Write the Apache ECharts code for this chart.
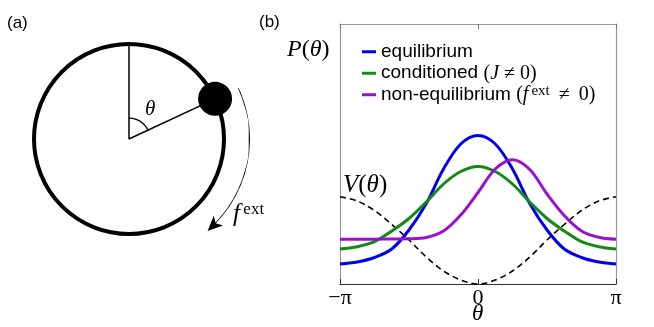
<!DOCTYPE html>
<html><head><meta charset="utf-8">
<script src="https://cdn.jsdelivr.net/npm/echarts@6/dist/echarts.min.js"></script>
<style>html,body{margin:0;padding:0;background:#fff}#c{width:654px;height:327px}</style>
</head><body><div id="c"></div>
<script>
// ---- panel (b) data: theta in units of pi ----
const theta = [-1, -0.875, -0.75, -0.625, -0.5, -0.375, -0.25, -0.125, 0, 0.125, 0.25, 0.375, 0.5, 0.625, 0.75, 0.875, 1];
const equilibrium = [20, 22, 26.5, 35, 54, 80.5, 115, 140, 148.5, 140, 115, 80.5, 54, 35, 26.5, 22, 20];
const conditioned = [35, 37.3, 42.3, 53, 65.5, 82, 100, 112.5, 117.5, 112.5, 100, 82, 65.5, 53, 42.3, 37.3, 35];
const nonEquilibrium = [44.7, 44.7, 44.8, 45, 45.2, 46.5, 53, 69, 91.5, 115, 124.3, 114.5, 90, 68.5, 53, 46.7, 44.7];
const potential = [87.3, 83, 73.5, 59.5, 44, 27, 13, 4, 0, 4, 13, 27, 44, 59.5, 73.5, 83, 87.3];
const xTickLabels = { '-1': '−π', '0': '0', '1': 'π' };
const seriesNames = ['equilibrium', 'conditioned', 'non-equilibrium'];

// ---- panel (a) diagram data: polar [radius, angle in degrees clockwise from top] ----
const refRay = [[0, 0], [1, 0]];
const ballRay = [[0, 65], [1, 65]];
const ball = [[1, 65]];
const thetaArc = [[0.22, 0], [0.22, 10], [0.22, 20], [0.22, 30], [0.22, 40], [0.22, 50], [0.22, 60], [0.22, 65]];
const forceArc = [[1, 65], [1, 75], [1, 85], [1, 95], [1, 105], [1, 115], [1, 125], [1, 135], [1, 138]];
const forceHead = [[1, 139.5]];

const zip = (xs, ys) => xs.map((x, i) => [x, ys[i]]);
const SERIF = '"Liberation Serif", "Times New Roman", serif';
const SANS = '"Liberation Sans", Arial, sans-serif';
const C_BLUE = '#0000f0', C_GREEN = '#138a13', C_PURPLE = '#9a10d0';
const SMOOTH = 0.34;

const chart = echarts.init(document.getElementById('c'), null, { renderer: 'canvas' });

const hiddenAxis = { axisLine: { show: false }, axisTick: { show: false }, axisLabel: { show: false }, splitLine: { show: false } };

chart.setOption({
  animation: false,
  backgroundColor: '#fff',
  grid: { left: 340, right: 38, top: 24, bottom: 43, containLabel: false, outerBoundsMode: 'none' },
  xAxis: [
    {
      type: 'value', min: -1, max: 1, interval: 1, position: 'bottom',
      axisLine: { onZero: false, lineStyle: { color: '#333', width: 1.2 } },
      axisTick: { inside: true, length: 5, lineStyle: { color: '#333' } },
      axisLabel: { formatter: v => xTickLabels[String(v)], fontFamily: SERIF, fontSize: 22, color: '#000', margin: 3 },
      splitLine: { show: false }
    },
    {
      type: 'value', min: -1, max: 1, interval: 1, position: 'top',
      axisLine: { onZero: false, lineStyle: { color: '#999', width: 1.2 } },
      axisTick: { inside: true, length: 5, lineStyle: { color: '#777' } },
      axisLabel: { show: false }, splitLine: { show: false }
    }
  ],
  yAxis: [
    { type: 'value', min: 0, max: 260, position: 'left', axisLine: { show: true, onZero: false, lineStyle: { color: '#999', width: 1.2 } }, axisTick: { show: false }, axisLabel: { show: false }, splitLine: { show: false } },
    { type: 'value', min: 0, max: 260, position: 'right', axisLine: { show: true, onZero: false, lineStyle: { color: '#999', width: 1.2 } }, axisTick: { show: false }, axisLabel: { show: false }, splitLine: { show: false } }
  ],
  polar: [
    { center: [129, 139], radius: 95 },
    { center: [129, 139], radius: 121 }
  ],
  angleAxis: [
    { polarIndex: 0, type: 'value', min: 0, max: 360, startAngle: 90, clockwise: true,
      axisLine: { show: true, lineStyle: { color: '#000', width: 4 } }, axisTick: { show: false }, axisLabel: { show: false }, splitLine: { show: false } },
    Object.assign({ polarIndex: 1, type: 'value', min: 0, max: 360, startAngle: 90, clockwise: true }, hiddenAxis)
  ],
  radiusAxis: [
    Object.assign({ polarIndex: 0, type: 'value', min: 0, max: 1 }, hiddenAxis),
    Object.assign({ polarIndex: 1, type: 'value', min: 0, max: 1 }, hiddenAxis)
  ],
  legend: {
    data: seriesNames, orient: 'vertical', left: 362, top: 41, padding: 0,
    icon: 'rect', itemWidth: 14, itemHeight: 3, itemGap: 0,
    textStyle: {
      fontFamily: SANS, fontSize: 19, color: '#000', lineHeight: 21.5,
      rich: {
        t: { fontFamily: SANS, fontSize: 19, color: '#000', lineHeight: 21.5 },
        m: { fontFamily: SERIF, fontSize: 20, color: '#000', lineHeight: 21.5 },
        mi: { fontFamily: SERIF, fontStyle: 'italic', fontSize: 20, color: '#000', lineHeight: 21.5 },
        sup: { fontFamily: SERIF, fontSize: 15, color: '#000', lineHeight: 13, verticalAlign: 'top' }
      }
    },
    formatter: name => {
      if (name === 'conditioned') return '{t|conditioned }{m|(}{mi|J}{m| ≠ 0)}';
      if (name === 'non-equilibrium') return '{t|non-equilibrium }{m|(}{mi|f}{sup|\u2009ext}{m| \u2009≠\u2009 0)}';
      return '{t|' + name + '}';
    }
  },
  graphic: [
    { type: 'text', left: 7, top: 15, style: { text: '(a)', fontFamily: SANS, fontSize: 17, fill: '#000' } },
    { type: 'text', left: 259, top: 14, style: { text: '(b)', fontFamily: SANS, fontSize: 17, fill: '#000' } },
    { type: 'text', left: 145, top: 99, style: { text: 'θ', fontFamily: SERIF, fontStyle: 'italic', fontSize: 21, fill: '#000' } },
    { type: 'text', left: 472, top: 302, style: { text: 'θ', fontFamily: SERIF, fontStyle: 'italic', fontSize: 23, fill: '#000' } },
    { type: 'text', left: 233, top: 201, style: { text: '{f|f}{s|\u2009ext}', rich: {
        f: { fontFamily: SERIF, fontStyle: 'italic', fontSize: 25, fill: '#000', lineHeight: 26 },
        s: { fontFamily: SERIF, fontSize: 17, fill: '#000', lineHeight: 15, verticalAlign: 'top' } } } },
    { type: 'text', left: 287, top: 38, style: { text: '{i|P}{u|(}{i|θ}{u|)}', rich: {
        i: { fontFamily: SERIF, fontStyle: 'italic', fontSize: 24, fill: '#000' },
        u: { fontFamily: SERIF, fontSize: 24, fill: '#000' } } } },
    { type: 'text', left: 343, top: 173, style: { text: '{i|V}{u|(}{i|θ}{u|)}', rich: {
        i: { fontFamily: SERIF, fontStyle: 'italic', fontSize: 25, fill: '#000' },
        u: { fontFamily: SERIF, fontSize: 25, fill: '#000' } } } }
  ],
  series: [
    { type: 'line', name: 'V', xAxisIndex: 0, yAxisIndex: 0, data: zip(theta, potential), smooth: SMOOTH, showSymbol: false, silent: true,
      lineStyle: { color: '#000', width: 1.6, type: [6, 4] }, z: 1 },
    { type: 'line', name: 'equilibrium', xAxisIndex: 0, yAxisIndex: 0, data: zip(theta, equilibrium), smooth: SMOOTH, showSymbol: false,
      lineStyle: { color: C_BLUE, width: 3 }, itemStyle: { color: C_BLUE }, z: 2 },
    { type: 'line', name: 'conditioned', xAxisIndex: 0, yAxisIndex: 0, data: zip(theta, conditioned), smooth: SMOOTH, showSymbol: false,
      lineStyle: { color: C_GREEN, width: 3 }, itemStyle: { color: C_GREEN }, z: 3 },
    { type: 'line', name: 'non-equilibrium', xAxisIndex: 0, yAxisIndex: 0, data: zip(theta, nonEquilibrium), smooth: SMOOTH, showSymbol: false,
      lineStyle: { color: C_PURPLE, width: 3 }, itemStyle: { color: C_PURPLE }, z: 4 },
    // panel (a)
    { type: 'line', coordinateSystem: 'polar', polarIndex: 0, data: refRay, showSymbol: false, silent: true, lineStyle: { color: '#000', width: 1.5 } },
    { type: 'line', coordinateSystem: 'polar', polarIndex: 0, data: ballRay, showSymbol: false, silent: true, lineStyle: { color: '#000', width: 1.5 } },
    { type: 'line', coordinateSystem: 'polar', polarIndex: 0, data: thetaArc, smooth: true, showSymbol: false, silent: true, lineStyle: { color: '#000', width: 1.3 } },
    { type: 'scatter', coordinateSystem: 'polar', polarIndex: 0, data: ball, symbol: 'circle', symbolSize: 34, silent: true, itemStyle: { color: '#000', opacity: 1 }, z: 5 },
    { type: 'line', coordinateSystem: 'polar', polarIndex: 1, data: forceArc, smooth: true, showSymbol: false, silent: true, lineStyle: { color: '#000', width: 1.6 } },
    { type: 'scatter', coordinateSystem: 'polar', polarIndex: 1, data: forceHead, symbol: 'arrow', symbolSize: [10, 15], symbolRotate: 134, silent: true, itemStyle: { color: '#000', opacity: 1 }, z: 5 }
  ]
});
</script>
</body></html>
